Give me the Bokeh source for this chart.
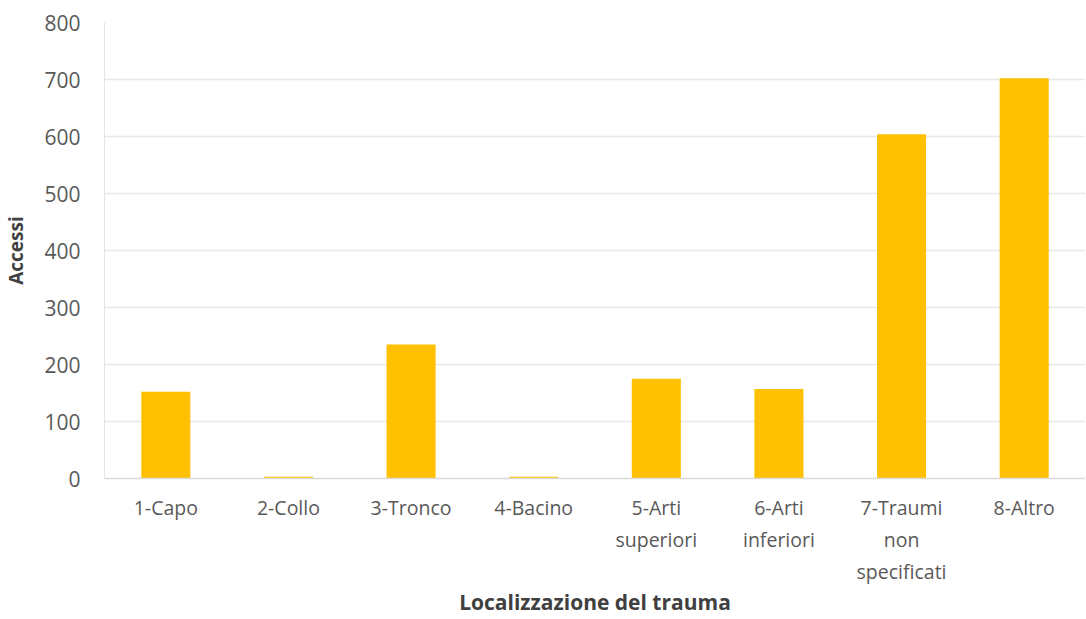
from bokeh.plotting import figure
from bokeh.models import FactorRange, Range1d, ColumnDataSource
from bokeh.embed import file_html
from bokeh.resources import INLINE

categories = ["1-Capo", "2-Collo", "3-Tronco", "4-Bacino", "5-Arti\nsuperiori",
              "6-Arti\ninferiori", "7-Traumi\nnon\nspecificati", "8-Altro"]
accessi = [152, 3, 235, 3, 175, 157, 604, 702]

FONT = "Open Sans"
src = ColumnDataSource(dict(cat=categories, val=accessi))

p = figure(width=1085, height=619, x_range=FactorRange(*categories, range_padding=0),
           y_range=Range1d(0, 800), output_backend="svg", toolbar_location=None,
           min_border_left=101, min_border_right=0, min_border_top=22, min_border_bottom=20)
p.vbar(x="cat", top="val", width=0.4, source=src, color="#FFC000", line_color=None)

p.outline_line_color = None
p.xgrid.grid_line_color = None
p.ygrid.grid_line_color = "#E8E8E8"
p.ygrid.grid_line_width = 1.5

p.yaxis.ticker = list(range(0, 801, 100))
p.yaxis.axis_line_color = "#E4E4E4"
p.yaxis.major_tick_line_color = None
p.yaxis.minor_tick_line_color = None
p.yaxis.major_label_text_font = FONT
p.yaxis.major_label_text_font_size = "21px"
p.yaxis.major_label_text_color = "#595959"
p.yaxis.major_label_standoff = 18
p.yaxis.axis_label = "Accessi"
p.yaxis.axis_label_text_font = FONT
p.yaxis.axis_label_text_font_style = "bold"
p.yaxis.axis_label_text_font_size = "19px"
p.yaxis.axis_label_text_color = "#404040"
p.yaxis.axis_label_standoff = 12

p.xaxis.axis_line_color = "#D9D9D9"
p.xaxis.axis_line_width = 1.5
p.xaxis.major_tick_line_color = None
p.xaxis.minor_tick_line_color = None
p.xaxis.major_label_text_font = FONT
p.xaxis.major_label_text_font_size = "19.5px"
p.xaxis.major_label_text_color = "#595959"
p.xaxis.major_label_standoff = 9
p.xaxis.major_label_orientation = "horizontal"
p.xaxis.axis_label = "Localizzazione del trauma"
p.xaxis.axis_label_text_font = FONT
p.xaxis.axis_label_text_font_style = "bold"
p.xaxis.axis_label_text_font_size = "21px"
p.xaxis.axis_label_text_color = "#404040"
p.xaxis.axis_label_standoff = 0

open("out.html", "w").write(file_html(p, INLINE))
